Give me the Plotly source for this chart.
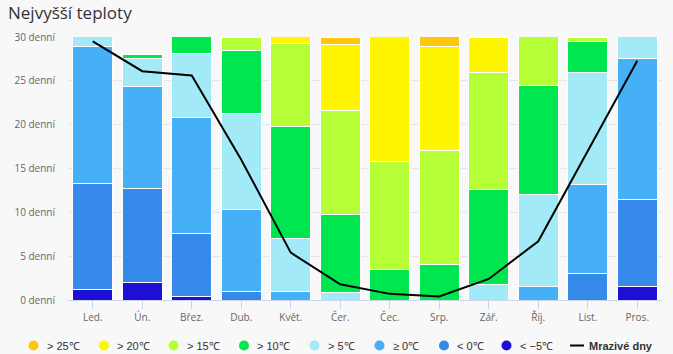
import plotly.graph_objects as go

months = ["Led.", "Ún.", "Břez.", "Dub.", "Květ.", "Čer.", "Čec.", "Srp.", "Zář.", "Říj.", "List.", "Pros."]

# days per month in each max-temperature class (stack order bottom -> top)
lt_m5 = [1.2, 2.0, 0.4, 0, 0, 0, 0, 0, 0, 0, 0, 1.5]
lt_0 = [12.1, 10.7, 7.2, 1.0, 0, 0, 0, 0, 0, 0, 3.0, 10.0]
ge_0 = [15.6, 11.6, 13.2, 9.3, 1.0, 0, 0, 0, 0, 1.5, 10.2, 16.0]
gt_5 = [2.1, 3.2, 7.3, 11.0, 6.0, 0.9, 0, 0, 1.8, 10.5, 12.8, 3.5]
gt_10 = [0, 0.5, 2.9, 7.2, 12.8, 8.8, 3.5, 4.1, 10.8, 12.5, 3.5, 0]
gt_15 = [0, 0, 0, 1.5, 9.5, 11.9, 12.3, 13.0, 13.4, 6.5, 0.5, 0]
gt_20 = [0, 0, 0, 0, 1.7, 7.5, 15.2, 11.8, 4.0, 0, 0, 0]
gt_25 = [0, 0, 0, 0, 0, 0.9, 0, 2.1, 0, 0, 0, 0]

frost_days = [29.5, 26.1, 25.6, 16.0, 5.4, 1.8, 0.7, 0.4, 2.4, 6.7, 17.0, 27.3]
frost_name = "Mrazivé dny"

y_ticks = [0, 5, 10, 15, 20, 25, 30]
y_ticktext = [f"{v} denní" for v in y_ticks]

series = [
    ("< −5℃", lt_m5, "#1D0FD3"),
    ("< 0℃", lt_0, "#368AEA"),
    ("≥ 0℃", ge_0, "#45B0F5"),
    ("> 5℃", gt_5, "#A2EAF7"),
    ("> 10℃", gt_10, "#00E64F"),
    ("> 15℃", gt_15, "#B6FF36"),
    ("> 20℃", gt_20, "#FFF500"),
    ("> 25℃", gt_25, "#FFC60C"),
]

W, H = 673, 354
ML, MR, MT, MB = 68, 11, 37, 54
PW, PH = W - ML - MR, H - MT - MB

def px_x(px):
    return (px - ML) / PW

def px_y(py):
    return (H - MB - py) / PH

fig = go.Figure()
for name, vals, col in series:
    fig.add_trace(go.Bar(
        x=months, y=vals, name=name, showlegend=False,
        marker=dict(color=col, line=dict(color="white", width=1)),
        hoverinfo="y+name",
    ))

fig.add_trace(go.Scatter(
    x=months, y=frost_days, mode="lines", name=frost_name,
    line=dict(color="black", width=2), showlegend=False,
))

# custom legend (circle markers, Highcharts-like spacing)
legend_circle_px = [33.5, 104, 173.5, 244, 314.5, 379.5, 444, 506.5]
legend_y = 345.5
shapes = []
annotations = []
for (name, vals, col), cx in zip(reversed(series), legend_circle_px):
    shapes.append(dict(type="circle", xref="paper", yref="paper",
                       xsizemode="pixel", ysizemode="pixel",
                       xanchor=px_x(cx), yanchor=px_y(legend_y),
                       x0=-5, x1=5, y0=-5, y1=5,
                       fillcolor=col, line=dict(width=0)))
    annotations.append(dict(text=name, xref="paper", yref="paper",
                            x=px_x(cx + 12), y=px_y(legend_y), xanchor="left", yanchor="middle",
                            showarrow=False, xshift=-1,
                            font=dict(family="Liberation Sans, Arial", size=11, color="#333333")))
shapes.append(dict(type="line", xref="paper", yref="paper",
                   x0=px_x(570), x1=px_x(584), y0=px_y(legend_y), y1=px_y(legend_y),
                   line=dict(color="black", width=2)))
annotations.append(dict(text=f"<b>{frost_name}</b>", xref="paper", yref="paper",
                        x=px_x(588), y=px_y(legend_y), xanchor="left", yanchor="middle",
                        showarrow=False, xshift=-1,
                        font=dict(family="Liberation Sans, Arial", size=11, color="#333333")))

fig.update_layout(
    width=W, height=H,
    barmode="stack", bargap=0.19,
    paper_bgcolor="#f8f8f8", plot_bgcolor="#f8f8f8",
    margin=dict(l=ML, r=MR, t=MT, b=MB, autoexpand=False),
    font=dict(family="Open Sans", size=10, color="#666666"),
    title=dict(text="Nejvyšší teploty", x=8 / W, xanchor="left", xref="container",
               y=1 - 13 / H, yanchor="middle", yref="container",
               font=dict(family="Open Sans", size=17, color="#333333")),
    showlegend=False,
    shapes=shapes,
    annotations=annotations,
)
fig.update_xaxes(
    showgrid=False, showline=True, linecolor="#ccd6eb", linewidth=1,
    ticks="outside", ticklen=8, tickcolor="#ccd6eb",
    tickfont=dict(family="Open Sans", size=10, color="#666666"),
)
fig.update_yaxes(
    range=[0, 30], tickvals=y_ticks, ticktext=y_ticktext,
    showgrid=True, gridcolor="#e6e6e6", gridwidth=1, zeroline=False,
    ticklabelstandoff=12, tickfont=dict(family="Open Sans", size=10, color="#666666"),
)

fig.write_html("out.html")
